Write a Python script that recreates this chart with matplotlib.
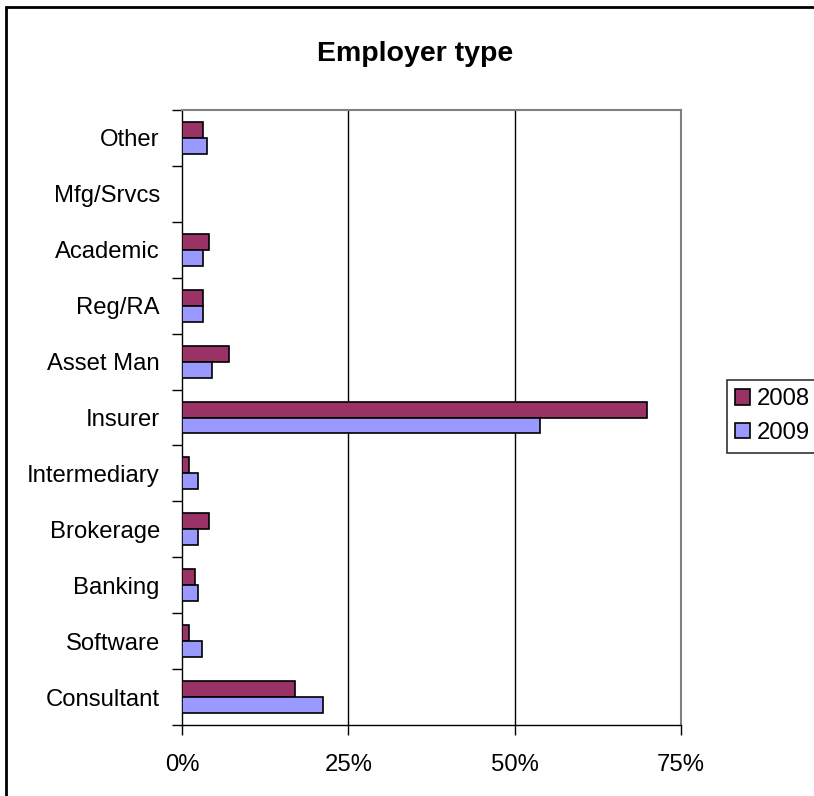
import numpy as np
import matplotlib
matplotlib.use("Agg")
import matplotlib.pyplot as plt
from matplotlib.patches import Rectangle
from matplotlib.ticker import FuncFormatter, FixedLocator

plt.rcParams['font.family'] = ['Liberation Sans', 'DejaVu Sans']

# Employer type shares, bottom to top
categories = ["Consultant", "Software", "Banking", "Brokerage", "Intermediary",
              "Insurer", "Asset Man", "Reg/RA", "Academic", "Mfg/Srvcs", "Other"]
share_2008 = [17.0, 1.1, 2.0, 4.0, 1.1, 69.9, 7.1, 3.1, 4.0, 0.0, 3.1]
share_2009 = [21.2, 3.0, 2.4, 2.4, 2.4, 53.8, 4.5, 3.1, 3.1, 0.0, 3.8]
years = ["2008", "2009"]
x_ticks = [0, 25, 50, 75]

W, H = 814, 796
fig = plt.figure(figsize=(W / 100, H / 100), dpi=100)
ax = fig.add_axes([182 / W, 1 - 725 / H, 499 / W, 615 / H])

y = np.arange(len(categories))
bh = 0.286
ax.barh(y + bh / 2, share_2008, height=bh, color="#993366", edgecolor="black",
        linewidth=1.2, label=years[0], zorder=3)
ax.barh(y - bh / 2, share_2009, height=bh, color="#9999FF", edgecolor="black",
        linewidth=1.2, label=years[1], zorder=3)

ax.set_xlim(0, 75)
ax.set_ylim(-0.5, len(categories) - 0.5)

# category labels at centres, tick marks on the boundaries
ax.set_yticks(y)
ax.set_yticklabels(categories, fontsize=17.2)
ax.tick_params(axis="y", which="major", length=0, pad=16)
ax.yaxis.set_minor_locator(FixedLocator(np.arange(-0.5, len(categories), 1.0)))
ax.tick_params(axis="y", which="minor", length=7, width=1, direction="out")

ax.set_xticks(x_ticks)
ax.xaxis.set_major_formatter(FuncFormatter(lambda v, p: f"{v:.0f}%"))
ax.tick_params(axis="x", length=7, width=1, direction="out", labelsize=17.2, pad=14)

for g in [25, 50]:
    ax.axvline(g, color="black", linewidth=1.0, zorder=1)

for side in ["top", "right"]:
    ax.spines[side].set_color("#808080")
    ax.spines[side].set_linewidth(1.5)
for side in ["left", "bottom"]:
    ax.spines[side].set_color("black")
    ax.spines[side].set_linewidth(1.0)

fig.text(415 / W, 1 - 54 / H, "Employer type", ha="center", va="center",
         fontsize=20.5, fontweight="bold")

leg = fig.legend(loc="upper left", bbox_to_anchor=(727 / W, 1 - 380 / H),
                 fontsize=17.2, frameon=True, fancybox=False, shadow=False,
                 handlelength=0.6, handleheight=0.6, handletextpad=0.3,
                 borderpad=0.35, labelspacing=0.5, borderaxespad=0)
leg.get_frame().set_edgecolor("black")
leg.get_frame().set_linewidth(1.2)

# outer chart border
fig.patches.append(Rectangle((6 / W, -0.1), 2.0, 1 - 7 / H + 0.1,
                             transform=fig.transFigure, fill=False,
                             edgecolor="black", linewidth=2))

fig.savefig("out.png", dpi=100)
